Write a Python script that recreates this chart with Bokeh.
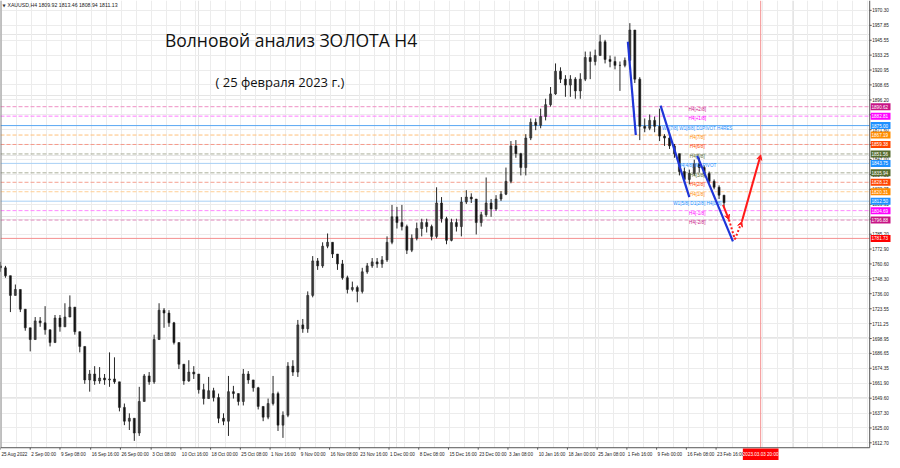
import numpy as np
from bokeh.plotting import figure
from bokeh.models import (Range1d, FixedTicker, Span, Label, Arrow, VeeHead,
                          ColumnDataSource, Grid)
from bokeh.embed import file_html
from bokeh.resources import INLINE
from bokeh.core.properties import value

# ---------------- data ----------------
header_text = "XAUUSD,H4  1809.92 1813.46 1808.94 1811.13"
title_text = "Волновой анализ ЗОЛОТА H4"
subtitle_text = "( 25 февраля 2023 г.)"

bar_step = 5          # chart slots per drawn candle
first_open = 1759.0

high = [1762.3, 1759.0, 1742.7, 1743.6, 1734.6, 1715.9, 1704.6, 1716.7, 1716.7, 1725.7,
        1702.1, 1718.4, 1718.4, 1728.1, 1734.6, 1724.9, 1704.6, 1689.9, 1672.9, 1676.1,
        1675.3, 1669.6, 1687.5, 1683.4, 1659.8, 1645.2, 1637.1, 1633.0, 1659.0, 1669.6,
        1671.2, 1702.1, 1728.1, 1724.1, 1722.4, 1712.7, 1695.6, 1677.7, 1681.0, 1676.1,
        1669.6, 1661.5, 1667.2, 1658.2, 1653.4, 1637.1, 1668.0, 1659.8, 1653.4, 1673.7,
        1672.0, 1664.7, 1659.0, 1642.8, 1649.3, 1668.0, 1655.0, 1638.7, 1679.4, 1681.0,
        1714.3, 1715.1, 1737.9, 1767.1, 1765.5, 1778.5, 1785.8, 1778.5, 1768.8, 1763.9,
        1750.9, 1746.0, 1742.7, 1757.4, 1761.4, 1765.5, 1765.5, 1767.1, 1783.4, 1809.4,
        1807.8, 1809.4, 1793.1, 1785.0, 1794.8, 1798.0, 1798.0, 1793.1, 1824.0, 1815.9,
        1799.6, 1798.0, 1798.0, 1815.9, 1821.6, 1819.0, 1814.3, 1803.7, 1832.1, 1814.3,
        1817.5, 1820.8, 1840.3, 1862.2, 1863.0, 1852.5, 1867.9, 1880.9, 1880.9, 1889.0,
        1897.2, 1906.9, 1926.4, 1923.2, 1916.7, 1916.7, 1915.0, 1918.3, 1936.2, 1936.2,
        1937.8, 1950.0, 1945.9, 1932.9, 1932.1, 1928.0, 1931.3, 1959.7, 1954.0, 1915.0,
        1880.9, 1884.2, 1882.5, 1889.0, 1867.9, 1866.3, 1859.8, 1851.8, 1840.3, 1838.6,
        1846.8, 1848.4, 1841.9, 1837.0, 1830.5, 1825.6, 1817.5]

low = [1754.1, 1749.2, 1720.8, 1734.6, 1720.8, 1705.4, 1688.3, 1702.1, 1708.6, 1702.1,
       1692.4, 1702.1, 1704.6, 1710.2, 1720.8, 1702.1, 1687.5, 1661.5, 1655.0, 1660.7,
       1661.5, 1660.7, 1659.0, 1661.5, 1638.7, 1627.3, 1623.3, 1614.3, 1618.4, 1646.9,
       1660.7, 1661.5, 1698.1, 1707.8, 1708.6, 1694.0, 1673.7, 1660.7, 1663.1, 1665.5,
       1653.4, 1644.4, 1649.3, 1646.9, 1629.0, 1627.3, 1618.4, 1649.3, 1643.6, 1643.6,
       1661.5, 1655.0, 1640.3, 1630.6, 1632.2, 1643.6, 1622.5, 1616.8, 1633.9, 1668.0,
       1667.2, 1703.7, 1703.7, 1733.0, 1755.7, 1757.4, 1773.6, 1765.5, 1755.7, 1747.6,
       1736.2, 1737.9, 1728.9, 1736.2, 1752.5, 1757.4, 1757.4, 1757.4, 1762.3, 1776.9,
       1789.9, 1788.3, 1768.8, 1770.4, 1780.1, 1783.4, 1786.6, 1780.1, 1781.8, 1794.8,
       1776.9, 1779.3, 1787.4, 1783.4, 1810.2, 1811.0, 1785.0, 1791.5, 1799.6, 1799.6,
       1804.5, 1812.6, 1817.5, 1827.3, 1848.4, 1833.8, 1833.8, 1863.0, 1871.2, 1872.8,
       1879.3, 1890.7, 1900.4, 1910.2, 1898.8, 1898.8, 1897.2, 1897.2, 1911.8, 1913.4,
       1924.8, 1932.9, 1926.4, 1923.2, 1921.5, 1903.7, 1923.2, 1926.4, 1910.2, 1863.0,
       1869.5, 1871.2, 1869.5, 1862.2, 1858.2, 1855.7, 1848.4, 1833.8, 1827.3, 1826.4,
       1833.8, 1836.2, 1833.0, 1827.3, 1822.4, 1814.3, 1807.8]

close = [1757.4, 1750.9, 1734.6, 1739.5, 1723.2, 1707.8, 1698.1, 1713.5, 1711.9, 1706.2,
         1695.6, 1715.9, 1708.6, 1716.7, 1724.9, 1704.6, 1692.4, 1664.7, 1669.6, 1663.9,
         1666.3, 1664.7, 1665.5, 1663.1, 1642.0, 1630.6, 1633.0, 1620.8, 1646.9, 1668.0,
         1663.1, 1698.1, 1722.4, 1720.0, 1711.9, 1695.6, 1677.7, 1663.9, 1671.2, 1669.6,
         1656.6, 1649.3, 1655.8, 1650.1, 1633.0, 1630.6, 1655.0, 1653.4, 1646.9, 1669.6,
         1664.7, 1658.2, 1642.8, 1633.9, 1645.2, 1653.4, 1627.3, 1635.5, 1676.1, 1671.2,
         1710.2, 1707.0, 1734.6, 1763.1, 1759.0, 1775.3, 1778.5, 1768.8, 1760.6, 1749.2,
         1739.5, 1741.1, 1737.9, 1754.1, 1759.0, 1762.3, 1760.6, 1763.9, 1778.5, 1799.6,
         1794.8, 1791.5, 1772.0, 1781.8, 1789.9, 1794.8, 1791.5, 1783.4, 1811.0, 1798.0,
         1780.1, 1794.8, 1791.5, 1811.8, 1815.9, 1814.3, 1794.8, 1801.3, 1811.0, 1806.1,
         1814.3, 1818.3, 1828.9, 1858.2, 1851.8, 1840.3, 1864.7, 1877.7, 1875.2, 1882.5,
         1892.3, 1901.2, 1919.9, 1913.4, 1908.5, 1913.4, 1903.7, 1913.4, 1931.3, 1928.0,
         1932.9, 1944.3, 1929.7, 1928.0, 1924.8, 1924.8, 1928.9, 1954.0, 1913.4, 1874.4,
         1872.8, 1879.3, 1874.4, 1866.3, 1864.7, 1858.2, 1851.8, 1837.0, 1830.5, 1835.4,
         1843.5, 1840.3, 1835.4, 1828.9, 1824.0, 1817.5, 1811.13]

price_ticks = [1612.70, 1625.00, 1637.30, 1649.60, 1661.90, 1674.35, 1686.65, 1698.95,
               1711.25, 1723.55, 1736.00, 1748.30, 1760.60, 1772.90, 1785.20, 1797.65,
               1809.95, 1822.25, 1834.55, 1847.00, 1859.30, 1871.60, 1883.90, 1896.20,
               1908.65, 1920.95, 1933.25, 1945.55, 1957.85, 1970.30]

date_slots = [0, 30, 60, 91, 121, 152, 182, 212, 242, 272, 302, 332, 362, 392, 422,
              452, 482, 512, 542, 572, 602, 632, 662, 692, 722]
date_labels = ["25 Aug 2022", "2 Sep 00:00", "9 Sep 08:00", "16 Sep 16:00", "26 Sep 00:00",
               "3 Oct 08:00", "10 Oct 16:00", "18 Oct 00:00", "25 Oct 08:00", "1 Nov 16:00",
               "9 Nov 00:00", "16 Nov 08:00", "23 Nov 16:00", "1 Dec 00:00", "8 Dec 08:00",
               "15 Dec 16:00", "23 Dec 00:00", "3 Jan 08:00", "10 Jan 16:00", "18 Jan 00:00",
               "25 Jan 08:00", "1 Feb 16:00", "9 Feb 00:00", "16 Feb 08:00", "23 Feb 16:00"]
future_slot = 767
future_label = "2023.03.03 20:00"

level_values = [1890.62, 1882.81, 1875.00, 1867.19, 1859.38, 1851.56, 1843.75,
                1835.94, 1828.12, 1820.31, 1812.50, 1804.69, 1796.88]
level_texts = ["H4[+2/8]", "H4[+1/8]", "W1[7/8] W1[8/8] D1PIVOT H4RES", "H4[7/8]",
               "H4[6/8]", "H4[5/8]", "H4[4/8] W1 PIVOT", "H4[3/8]", "H4[2/8]",
               "H4[1/8]", "W1[5/8] D1[2/8] H4[0/8]", "H4[-1/8]", "H4[-2/8]"]
target_value = 1781.73

wave_x0 = [633, 666, 703]
wave_y0 = [1944.3, 1891.5, 1850.0]
wave_x1 = [641, 695, 739]
wave_y1 = [1867.1, 1815.9, 1779.3]

forecast_x = [729, 735, 741, 748, 767]
forecast_y = [1809.4, 1797.2, 1780.9, 1795.6, 1850.8]

# ---------------- layout / styles ----------------
label_colors = ["#c71585", "#ff00ff", "#1e90ff", "#ff8c00", "#ff4500", "#556b2f", "#1e90ff",
                "#556b2f", "#ff4500", "#ff8c00", "#1e90ff", "#ff00ff", "#c71585"]
line_colors = ["#ee90c4", "#ff7cff", "#5aa8f2", "#ffc07a", "#f59a8a", "#a9ad98", "#a8d0f5",
               "#a9ad98", "#f5a08f", "#ffcf95", "#a8d0f5", "#ff88ff", "#e08ebe"]
line_dashes = ["4 2", "4 2", "solid", "4 2", "4 2", "4 2", "solid",
               "4 2", "4 2", "4 2", "solid", "4 2", "4 2"]
SMALL = "4.6px"
FONT = "Liberation Sans"

PX = 0.8127                      # price per reference pixel
Y_TOP = 1978.43                  # price at top edge


def py(ypix):
    return Y_TOP - PX * ypix


FRAME_R = 877.0                  # right edge of the chart area (ref px)
FRAME_B = py(455)                # bottom edge of the chart area (price)
CANVAS_R = 900.0
CANVAS_B = py(468)

p = figure(width=892, height=460, x_range=Range1d(0, CANVAS_R),
           y_range=Range1d(CANVAS_B, Y_TOP),
           output_backend="svg", toolbar_location=None, x_axis_location=None,
           y_axis_location=None, min_border=0)
p.background_fill_color = "white"
p.border_fill_color = "white"
p.outline_line_color = None

# grids
xgrid_ticks = list(np.arange(1.5, FRAME_R, 15.05))
p.add_layout(Grid(dimension=0, ticker=FixedTicker(ticks=xgrid_ticks), grid_line_color="#ececec"))
p.add_layout(Grid(dimension=1, ticker=FixedTicker(ticks=price_ticks), grid_line_color="#ececec"))

# Murrey levels
for v, c, d in zip(level_values, line_colors, line_dashes):
    p.add_layout(Span(location=v, dimension="width", line_color=c, line_width=1,
                      line_dash=d, level="underlay"))
p.add_layout(Span(location=target_value, dimension="width", line_color="#f49090",
                  line_width=1, level="underlay"))
p.add_layout(Span(location=future_slot, dimension="height", line_color="#f49090",
                  line_width=1, level="underlay"))

# candles
n = len(close)
xs = np.arange(n) * bar_step
opens = np.array([first_open] + close[:-1])
cl = np.array(close)
hi = np.maximum(np.array(high), np.maximum(opens, cl))
lo = np.minimum(np.array(low), np.minimum(opens, cl))
src = ColumnDataSource(dict(
    x=xs, hi=hi, lo=lo, top=np.maximum(opens, cl), bot=np.minimum(opens, cl),
    fill=["#3c3c3c" if c >= o else "#111111" for o, c in zip(opens, cl)]))
p.segment(x0="x", y0="lo", x1="x", y1="hi", source=src, line_color="#262626", line_width=1)
p.vbar(x="x", width=2.0, top="top", bottom="bot", source=src, fill_color="fill",
       line_color="#262626", line_width=0.6)

# level texts in chart
tsrc = ColumnDataSource(dict(x=[703] * len(level_values), y=level_values,
                             t=level_texts, c=label_colors))
p.text(x="x", y="y", text="t", text_color="c", source=tsrc, text_align="center",
       text_baseline="top", text_font=value(FONT), text_font_size=SMALL)

# wave lines
p.segment(x0=wave_x0, y0=wave_y0, x1=wave_x1, y1=wave_y1, line_color="#1f35d8", line_width=2.2)

# forecast arrows
fc_dash = ["solid", "2 2", "2 2", "solid"]
fc_head = [True, False, True, True]
for i in range(len(forecast_x) - 1):
    head = VeeHead(size=5, fill_color="#ff1a1a", line_color="#ff1a1a") if fc_head[i] else None
    p.add_layout(Arrow(x_start=forecast_x[i], y_start=forecast_y[i],
                       x_end=forecast_x[i + 1], y_end=forecast_y[i + 1],
                       line_color="#ff1a1a", line_width=2, line_dash=fc_dash[i], end=head))

# axis panels (white) + borders
p.quad(left=[FRAME_R, 0], right=[CANVAS_R, CANVAS_R], bottom=[CANVAS_B, CANVAS_B],
       top=[Y_TOP, FRAME_B], fill_color="white", line_color=None)
p.segment(x0=[0.3, FRAME_R, 0], y0=[Y_TOP, Y_TOP, FRAME_B],
          x1=[0.3, FRAME_R, FRAME_R], y1=[FRAME_B, FRAME_B, FRAME_B],
          line_color="#555555", line_width=1)

# price axis ticks and labels
p.segment(x0=[FRAME_R] * len(price_ticks), y0=price_ticks,
          x1=[FRAME_R + 2] * len(price_ticks), y1=price_ticks, line_color="#555555", line_width=1)
p.text(x=[FRAME_R + 2.5] * len(price_ticks), y=price_ticks,
       text=[f"{v:.2f}" for v in price_ticks], text_font=value(FONT), text_font_size=SMALL,
       text_color="#222222", text_align="left", text_baseline="middle")

# coloured level price boxes
box_vals = level_values + [target_value]
box_cols = label_colors + ["#ff0000"]
p.rect(x=[FRAME_R + 11] * len(box_vals), y=box_vals, width=20, height=7, height_units="screen",
       fill_color=box_cols, line_color=None)
p.text(x=[FRAME_R + 1.8] * len(box_vals), y=box_vals, text=[f"{v:.2f}" for v in box_vals],
       text_font=value(FONT), text_font_size=SMALL, text_color="white",
       text_align="left", text_baseline="middle")

# date labels
y_date = py(462)
p.segment(x0=date_slots, y0=[FRAME_B] * len(date_slots), x1=date_slots,
          y1=[py(457)] * len(date_slots), line_color="#555555", line_width=1)
p.text(x=[s + 1 for s in date_slots], y=[y_date] * len(date_slots), text=date_labels,
       text_font=value(FONT), text_font_size=SMALL, text_color="#222222",
       text_align="left", text_baseline="middle")
p.rect(x=[future_slot], y=[py(462)], width=36, height=12, height_units="screen",
       fill_color="#ff0000", line_color=None)
p.text(x=[future_slot], y=[y_date], text=[future_label], text_font=value(FONT),
       text_font_size=SMALL, text_color="white", text_align="center", text_baseline="middle")

# header and titles
p.add_layout(Label(x=2, y=py(5), text="▼", text_font="DejaVu Sans",
                   text_font_size="4px", text_color="#333333", text_baseline="middle"))
p.add_layout(Label(x=7, y=py(5), text=header_text, text_font=FONT,
                   text_font_size="5.2px", text_color="#222222", text_baseline="middle"))
p.add_layout(Label(x=166, y=py(40), text=title_text, text_font="Open Sans",
                   text_font_size="17.5px", text_color="#111111", text_baseline="alphabetic"))
p.add_layout(Label(x=217, y=py(83), text=subtitle_text, text_font="Open Sans",
                   text_font_size="13px", text_color="#111111", text_baseline="alphabetic"))

open("out.html", "w").write(file_html(p, INLINE))
